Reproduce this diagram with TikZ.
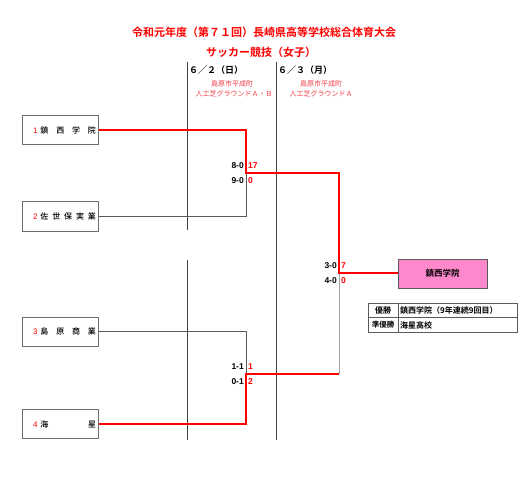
\documentclass[tikz,border=0pt]{standalone}
\usepackage{fontspec}
\setmainfont{Noto Sans CJK JP}[BoldFont={Noto Sans CJK JP Bold}]
\newfontfamily\latinsans{Liberation Sans}
\newfontfamily\jpmed{Noto Sans CJK JP Medium}
\definecolor{winred}{RGB}{255,0,0}
\definecolor{venuered}{RGB}{240,60,70}
\definecolor{pinkbox}{RGB}{255,136,204}
\definecolor{linegray}{RGB}{90,90,90}
\definecolor{boxgray}{RGB}{110,110,110}
\definecolor{lightgray2}{RGB}{160,160,160}
\tikzset{
  teambox/.style={draw=boxgray, line width=1bp, minimum width=76bp, minimum height=29bp, inner sep=2bp, font=\fontsize{8bp}{9bp}\jpmed},
  winline/.style={draw=winred, line width=2bp},
  loseline/.style={draw=linegray, line width=0.8bp},
  lightline/.style={draw=lightgray2, line width=0.9bp},
  dayline/.style={draw=black!75, line width=0.8bp},
  score/.style={font=\fontsize{8.5bp}{9bp}\latinsans\bfseries, inner sep=0pt},
  rscore/.style={score, text=winred},
  venue/.style={font=\fontsize{7bp}{8bp}\selectfont, text=venuered, inner sep=0pt},
  cell/.style={font=\fontsize{8bp}{9bp}\selectfont\bfseries, inner sep=0pt}
}
\newcommand{\tname}[2]{\hbox to 72bp{\hskip9bp\textcolor{winred}{\latinsans #1}\hskip3bp #2}}
\begin{document}
\begin{tikzpicture}[x=1bp,y=-1bp]
\useasboundingbox (0,0) rectangle (531,480);
% titles
\node[font=\fontsize{11bp}{12bp}\selectfont\bfseries, text=winred, inner sep=0pt] (title1) at (264,32) {令和元年度（第７１回）長崎県高等学校総合体育大会};
\node[font=\fontsize{11bp}{12bp}\selectfont\bfseries, text=winred, inner sep=0pt] (title2) at (261,52) {サッカー競技（女子）};
% day separators
\coordinate (d1a) at (187,62); \coordinate (d1b) at (187,230);
\coordinate (d1c) at (187,260); \coordinate (d1d) at (187,440);
\coordinate (d2a) at (276,62); \coordinate (d2b) at (276,440);
\draw[dayline] (d1a) -- (d1b);
\draw[dayline] (d1c) -- (d1d);
\draw[dayline] (d2a) -- (d2b);
\node[anchor=west, font=\fontsize{9bp}{10bp}\selectfont\bfseries, inner sep=0pt] (day1) at (189,70) {６／２（日）};
\node[anchor=west, font=\fontsize{9bp}{10bp}\selectfont\bfseries, inner sep=0pt] (day2) at (278,70) {６／３（月）};
\node[venue] (v1a) at (232,84) {島原市平成町};
\node[venue] (v1b) at (234,94) {人工芝グラウンドＡ・Ｂ};
\node[venue] (v2a) at (321,84) {島原市平成町};
\node[venue] (v2b) at (321,94) {人工芝グラウンドＡ};
% teams
\node[teambox] (t1) at (60,130) {\tname{1}{鎮\hfil 西\hfil 学\hfil 院}};
\node[teambox] (t2) at (60,216.5) {\tname{2}{佐\hfil 世\hfil 保\hfil 実\hfil 業}};
\node[teambox] (t3) at (60,331.5) {\tname{3}{島\hfil 原\hfil 商\hfil 業}};
\node[teambox] (t4) at (60,424) {\tname{4}{海\hfil 星}};
% junctions
\coordinate (m1) at (246,173);
\coordinate (m2) at (246,374);
\coordinate (f1) at (339,173);
\coordinate (f2) at (339,374);
\coordinate (fj) at (339,273);
% winner box
\node[draw=linegray, line width=0.9bp, fill=pinkbox, minimum width=89bp, minimum height=29bp, inner sep=0pt, font=\fontsize{8.5bp}{9bp}\selectfont\bfseries] (champ) at (442.5,273.5) {鎮西学院};
% bracket lines
\draw[loseline] (t2.east) -| (m1);
\draw[loseline] (t3.east) -| (m2);
\draw[lightline] (f2) -- (fj);
\draw[winline] (t1.east) -| (m1) -- (f1) -- (fj) -- (fj -| champ.west);
\draw[winline] (t4.east) -| (m2) -- (f2);
% scores
\node[score, anchor=east] (s1a) at (244,166) {8-0};
\node[rscore, anchor=west] (s1b) at (248,166) {17};
\node[score, anchor=east] (s2a) at (244,181) {9-0};
\node[rscore, anchor=west] (s2b) at (248,181) {0};
\node[score, anchor=east] (s3a) at (244,367) {1-1};
\node[rscore, anchor=west] (s3b) at (248,367) {1};
\node[score, anchor=east] (s4a) at (244,382) {0-1};
\node[rscore, anchor=west] (s4b) at (248,382) {2};
\node[score, anchor=east] (s5a) at (337,266) {3-0};
\node[rscore, anchor=west] (s5b) at (341,266) {7};
\node[score, anchor=east] (s6a) at (337,281) {4-0};
\node[rscore, anchor=west] (s6b) at (341,281) {0};
% result table
\node[draw=linegray, line width=0.8bp, minimum width=149bp, minimum height=29bp, inner sep=0pt] (res) at (442.5,317.5) {};
\coordinate (cdiv) at (398,303);
\draw[line width=0.6bp, draw=linegray] (cdiv) -- (cdiv |- res.south);
\draw[line width=0.6bp, draw=linegray] (res.west) -- (res.east);
\node[cell] (r1a) at (383,310.5) {優勝};
\node[cell, anchor=west] (r1b) at (400,310.5) {鎮西学院（9年連続9回目）};
\node[cell, font=\fontsize{7.5bp}{9bp}\selectfont\bfseries] (r2a) at (383,325) {準優勝};
\node[cell, anchor=west] (r2b) at (400,325) {海星高校};
\end{tikzpicture}
\end{document}
